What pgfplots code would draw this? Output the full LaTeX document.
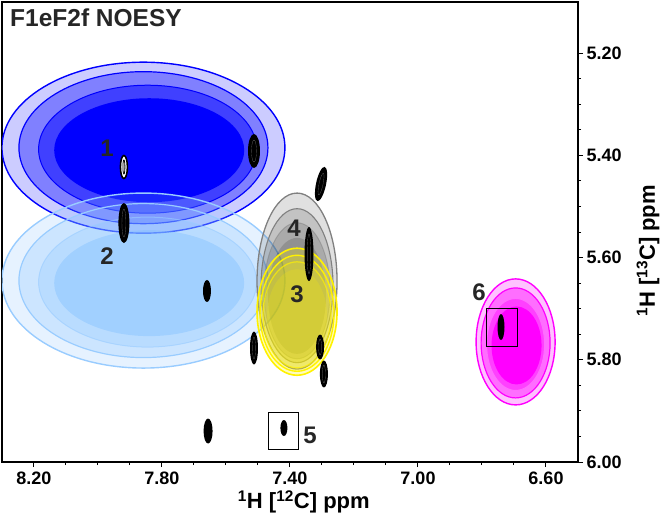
\documentclass[border=0pt]{standalone}
\usepackage{pgfplots}
\pgfplotsset{compat=1.18}
\usepackage{fontspec}
\setmainfont{Liberation Sans}
\definecolor{txt}{HTML}{262626}
\definecolor{bl1}{HTML}{CCCCFF}
\definecolor{bl2}{HTML}{8080FF}
\definecolor{bl3}{HTML}{4040FF}
\definecolor{bl4}{HTML}{0000FF}
\definecolor{lb}{HTML}{80BFFF}
\definecolor{lbline}{HTML}{99CCFF}
\definecolor{gline}{HTML}{808080}
\definecolor{mg1}{HTML}{FFC2FF}
\definecolor{mg2}{HTML}{FF6EFF}
\definecolor{mg3}{HTML}{FF40FF}
\definecolor{mg4}{HTML}{FF00FF}
\begin{document}
\begin{tikzpicture}
\path[use as bounding box] (0,0) rectangle (661pt,517pt);
\begin{axis}[
  at={(2pt,55pt)}, anchor=south west,
  scale only axis, width=576pt, height=460pt,
  xmin=6.5, xmax=8.3, ymin=5.1, ymax=6.0,
  x dir=reverse, y dir=reverse,
  xtick={6.6,7.0,7.4,7.8,8.2},
  xticklabels={6.60,7.00,7.40,7.80,8.20},
  ytick={5.2,5.4,5.6,5.8,6.0},
  yticklabels={5.20,5.40,5.60,5.80,6.00},
  minor x tick num=3, minor y tick num=3,
  xtick pos=bottom, ytick pos=right, yticklabel pos=right,
  tick align=outside,
  major tick length=5pt, minor tick length=3pt,
  tick style={black, line width=1pt},
  axis line style={black, line width=1.2pt},
  ticklabel style={font=\fontsize{18}{20}\selectfont\bfseries, text=black},
  xticklabel style={inner sep=0pt, yshift=-5pt},
  /pgf/number format/assume math mode=true,
  xlabel={\textsuperscript{1}H [\textsuperscript{12}C] ppm},
  ylabel={\textsuperscript{1}H [\textsuperscript{13}C] ppm},
  every axis x label/.style={at={(rel axis cs:0.524,-0.087)}, anchor=center, inner sep=0pt, font=\fontsize{22}{24}\selectfont\bfseries, text=black},
  every axis y label/.style={at={(rel axis cs:1.1215,0.4587)}, anchor=center, rotate=90, inner sep=0pt, font=\fontsize{22}{24}\selectfont\bfseries, text=black},
  clip=true,
]
% ---- ellipse 1 (blue) centre 7.858 / 5.385
\filldraw[fill=bl1, draw=bl4, line width=1.4pt] (axis cs:7.858,5.385) ellipse [x radius=141.5pt, y radius=85.5pt];
\filldraw[fill=bl2, draw=bl4, line width=1.2pt] (axis cs:7.858,5.385) ellipse [x radius=124.5pt, y radius=76pt];
\filldraw[fill=bl3, draw=bl4, line width=1pt] (axis cs:7.845,5.388) ellipse [x radius=109pt, y radius=64pt];
\fill[bl4] (axis cs:7.84,5.39) ellipse [x radius=95pt, y radius=52pt];
% ---- ellipse 2 (light blue) centre 7.858 / 5.645
\filldraw[fill=lb, fill opacity=0.2, draw=lbline, line width=1.4pt] (axis cs:7.858,5.645) ellipse [x radius=141.5pt, y radius=87.5pt];
\filldraw[fill=lb, fill opacity=0.25, draw=lbline, line width=1.2pt] (axis cs:7.858,5.645) ellipse [x radius=124.5pt, y radius=77pt];
\filldraw[fill=lb, fill opacity=0.25, draw=lbline, draw opacity=0.6, line width=1pt] (axis cs:7.845,5.648) ellipse [x radius=109pt, y radius=65pt];
\fill[lb, fill opacity=0.42] (axis cs:7.84,5.65) ellipse [x radius=95pt, y radius=53pt];
% ---- ellipse 4 (grey) centre 7.378 / 5.646
\filldraw[fill=black, fill opacity=0.12, draw=gline, line width=1.3pt] (axis cs:7.378,5.646) ellipse [x radius=40pt, y radius=88pt];
\filldraw[fill=black, fill opacity=0.13, draw=gline, line width=1.1pt] (axis cs:7.378,5.655) ellipse [x radius=36pt, y radius=77pt];
\filldraw[fill=black, fill opacity=0.13, draw=gline, draw opacity=0.5, line width=1pt] (axis cs:7.378,5.665) ellipse [x radius=33pt, y radius=68pt];
\fill[black, fill opacity=0.15] (axis cs:7.378,5.675) ellipse [x radius=29pt, y radius=58pt];
% ---- ellipse 3 (yellow) centre 7.378 / 5.706
\filldraw[fill=yellow, fill opacity=0.25, draw=yellow, line width=1.6pt] (axis cs:7.378,5.706) ellipse [x radius=40pt, y radius=63.5pt];
\filldraw[fill=yellow, fill opacity=0.2, draw=yellow, line width=1.4pt] (axis cs:7.378,5.709) ellipse [x radius=37pt, y radius=58pt];
\filldraw[fill=yellow, fill opacity=0.2, draw=yellow, draw opacity=0.7, line width=1.2pt] (axis cs:7.378,5.712) ellipse [x radius=34pt, y radius=53pt];
\fill[yellow, fill opacity=0.2] (axis cs:7.378,5.715) ellipse [x radius=30pt, y radius=47pt];
% ---- ellipse 6 (magenta) centre 6.695 / 5.765
\filldraw[fill=mg1, draw=mg4, line width=1.4pt] (axis cs:6.695,5.765) ellipse [x radius=39.5pt, y radius=63pt];
\filldraw[fill=mg2, draw=mg4, line width=1.2pt] (axis cs:6.695,5.767) ellipse [x radius=34.5pt, y radius=55pt];
\filldraw[fill=mg3, draw=mg2, line width=1pt] (axis cs:6.695,5.770) ellipse [x radius=29pt, y radius=46pt];
\fill[mg4] (axis cs:6.692,5.772) ellipse [x radius=25pt, y radius=39pt];
% ---- black peaks
\fill[black] (axis cs:7.5125,5.3915) ellipse [x radius=6pt, y radius=17pt];
\draw[gray, line width=0.15pt] (axis cs:7.5125,5.3915) ellipse [x radius=2.5pt, y radius=11pt];
\filldraw[fill=white, draw=black, line width=1.6pt] (axis cs:7.919,5.4228) ellipse [x radius=3.5pt, y radius=11.5pt];
\draw[black, line width=0.8pt] (axis cs:7.919,5.4228) ellipse [x radius=1pt, y radius=7pt];
\fill[black] (axis cs:7.919,5.5324) ellipse [x radius=5.5pt, y radius=20pt];
\draw[gray, line width=0.15pt] (axis cs:7.919,5.5324) ellipse [x radius=2pt, y radius=14pt];
\fill[black, rotate around={-12:(axis cs:7.303,5.4561)}] (axis cs:7.303,5.4561) ellipse [x radius=5pt, y radius=17.5pt];
\draw[gray, line width=0.15pt, rotate around={-12:(axis cs:7.303,5.4561)}] (axis cs:7.303,5.4561) ellipse [x radius=2pt, y radius=11pt];
\fill[black] (axis cs:7.3406,5.5931) ellipse [x radius=4.5pt, y radius=27pt];
\draw[gray, line width=0.15pt] (axis cs:7.3406,5.5931) ellipse [x radius=1.8pt, y radius=20pt];
\fill[black] (axis cs:7.6594,5.6654) ellipse [x radius=4pt, y radius=11pt];
\fill[black] (axis cs:7.5125,5.777) ellipse [x radius=4pt, y radius=16.5pt];
\draw[gray, line width=0.15pt] (axis cs:7.5125,5.777) ellipse [x radius=1.5pt, y radius=11pt];
\fill[black] (axis cs:7.306,5.775) ellipse [x radius=4pt, y radius=12.5pt];
\draw[gray, line width=0.15pt] (axis cs:7.306,5.775) ellipse [x radius=1.5pt, y radius=8pt];
\fill[black] (axis cs:7.294,5.8278) ellipse [x radius=4pt, y radius=13.5pt];
\draw[gray, line width=0.15pt] (axis cs:7.294,5.8278) ellipse [x radius=1.5pt, y radius=9pt];
\fill[black] (axis cs:7.656,5.9394) ellipse [x radius=4.5pt, y radius=12.5pt];
\fill[black] (axis cs:7.419,5.9335) ellipse [x radius=3.5pt, y radius=8pt];
\fill[black] (axis cs:6.7406,5.7359) ellipse [x radius=3.5pt, y radius=13pt];
% ---- boxes
\draw[black, line width=0.9pt] (axis cs:7.4688,5.9022) rectangle (axis cs:7.375,5.9746);
\draw[black, line width=0.9pt] (axis cs:6.7875,5.6987) rectangle (axis cs:6.6906,5.7731);
% ---- numbers
\begin{scope}[every node/.style={font=\fontsize{24}{26}\selectfont\bfseries, text=txt, inner sep=0pt}]
\node at (axis cs:7.972,5.3857) {1};
\node at (axis cs:7.972,5.597) {2};
\node at (axis cs:7.378,5.6713) {3};
\node at (axis cs:7.3875,5.5422) {4};
\node at (axis cs:7.3375,5.9472) {5};
\node at (axis cs:6.8094,5.6674) {6};
\end{scope}
\node[anchor=base west, inner sep=0pt, font=\fontsize{24.5}{26}\selectfont\bfseries, text=txt] at (rel axis cs:0.0139,0.9457) {F1eF2f NOESY};
\end{axis}
\end{tikzpicture}
\end{document}
